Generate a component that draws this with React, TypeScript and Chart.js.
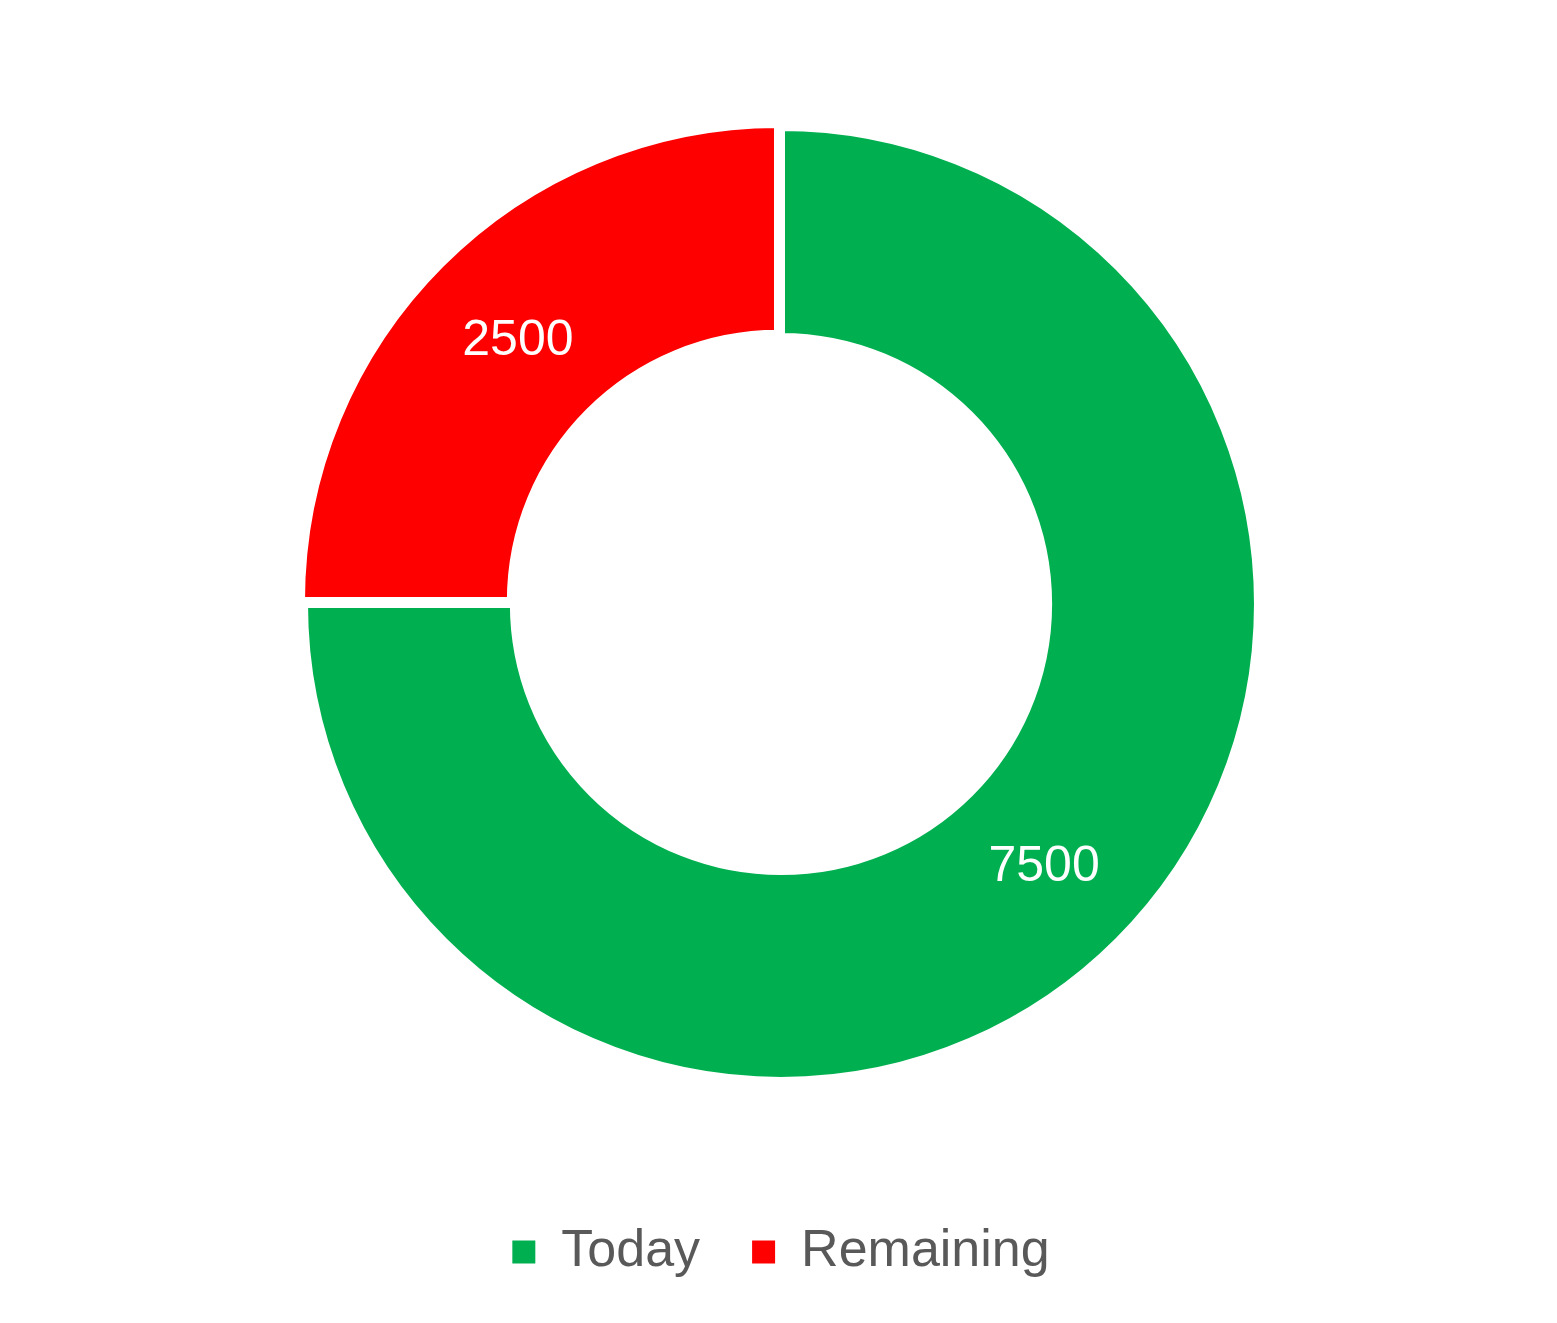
import React, { useEffect, useRef } from "react";
import { Chart, registerables } from "chart.js";

Chart.register(...registerables);

const categories = ["Today", "Remaining"];
const values = [7500, 2500];
const colors = ["#00B050", "#FF0000"];
const offsets = [0, 17];

const labelPlugin = {
  id: "centroidLabels",
  afterDatasetsDraw(chart: any) {
    const ctx = chart.ctx;
    const meta = chart.getDatasetMeta(0);
    ctx.save();
    ctx.fillStyle = "#FFFFFF";
    ctx.font = '50px "Liberation Sans", Arial, sans-serif';
    ctx.textAlign = "center";
    ctx.textBaseline = "middle";
    meta.data.forEach((arc: any, i: number) => {
      const p = arc.getProps(["x", "y", "startAngle", "endAngle", "innerRadius", "outerRadius"], true);
      const mid = (p.startAngle + p.endAngle) / 2;
      const r = (p.innerRadius + p.outerRadius) / 2;
      ctx.fillText(String(values[i]), p.x + Math.cos(mid) * r, p.y + Math.sin(mid) * r);
    });
    ctx.restore();
  },
};

export default function App() {
  const ref = useRef<HTMLCanvasElement | null>(null);
  useEffect(() => {
    if (!ref.current) return;
    const baseGen = (Chart as any).overrides.doughnut.plugins.legend.labels.generateLabels;
    const chart = new Chart(ref.current, {
      type: "doughnut",
      data: {
        labels: categories,
        datasets: [
          {
            data: values,
            backgroundColor: colors,
            borderColor: "#FFFFFF",
            borderWidth: 8,
            offset: offsets,
          },
        ],
      },
      options: {
        animation: false,
        responsive: false,
        radius: 477,
        cutout: "56%",
        layout: { padding: { left: 5, right: 0, top: 34, bottom: 35 } },
        plugins: {
          tooltip: { enabled: false },
          legend: {
            position: "bottom",
            labels: {
              boxWidth: 23,
              boxHeight: 23,
              padding: 52,
              color: "#595959",
              font: { family: '"Liberation Sans", Arial, sans-serif', size: 52 },
              generateLabels: (c: any) =>
                baseGen(c).map((l: any) => ({ ...l, lineWidth: 0, strokeStyle: l.fillStyle })),
            },
          },
        },
      } as any,
      plugins: [labelPlugin],
    });
    return () => chart.destroy();
  }, []);
  return (
    <div style={{ position: "fixed", left: 0, top: 0, width: 1557, height: 1323, background: "#fff" }}>
      <canvas ref={ref} width={1557} height={1323} style={{ display: "block" }} />
    </div>
  );
}
